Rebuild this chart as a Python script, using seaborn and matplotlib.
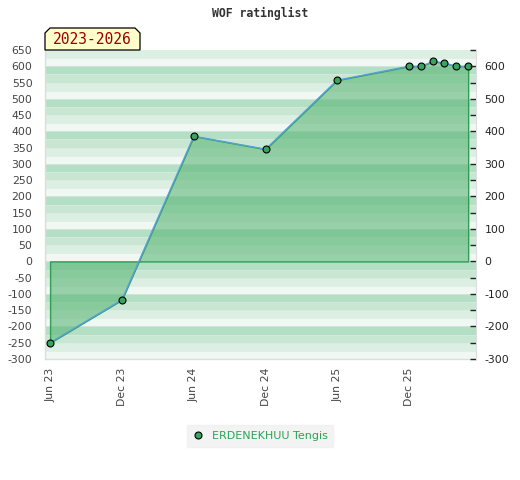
import pandas as pd
import numpy as np
import matplotlib
matplotlib.use('Agg')
import matplotlib.pyplot as plt
import matplotlib.dates as mdates
from matplotlib.lines import Line2D
from matplotlib.patches import Polygon
import seaborn as sns

# rating history
dates = pd.to_datetime(['2023-06-01', '2023-12-01', '2024-06-01', '2024-12-01',
                        '2025-06-01', '2025-12-01', '2026-01-01', '2026-02-01',
                        '2026-03-01', '2026-04-01', '2026-05-01'])
rating = [-250, -118, 385, 345, 557, 600, 600, 615, 610, 600, 600]
player = 'ERDENEKHUU Tengis'
period = '2023-2026'
title = 'WOF ratinglist'

df = pd.DataFrame({'date': dates, 'rating': rating})

sns.set_style('white')
plt.rcParams['font.family'] = ['DejaVu Sans']
plt.rcParams['axes.unicode_minus'] = False

fig = plt.figure(figsize=(5.2, 4.8), dpi=100)
ax = fig.add_axes([45 / 520, 1 - 359 / 480, 431 / 520, 309 / 480])

ymin, ymax = -300, 650
ax.set_ylim(ymin, ymax)
ax.set_xlim(pd.Timestamp('2023-05-19'), pd.Timestamp('2026-05-21'))

# striped background, 25-unit bands, darkest right under each hundred
band_cols = {0: '#b3dfc4', 75: '#c7e7d2', 50: '#dcefe3', 25: '#eff8f2'}
for top in range(ymax, ymin, -25):
    ax.axhspan(top - 25, top, color=band_cols[top % 100], lw=0, zorder=0)
    ax.axhline(top - 25, color='#e2e6e3', lw=0.5, zorder=0.5)

# filled area between the line and zero
ax.fill_between(df['date'], df['rating'], 0, facecolor=(0.35, 0.71, 0.46, 0.58),
                edgecolor='#2e9e55', lw=1.0, zorder=1)

sns.lineplot(data=df, x='date', y='rating', ax=ax, color='#5aa0dc', lw=1.0,
             marker='o', markersize=5, markerfacecolor='#3aa35f',
             markeredgecolor='black', markeredgewidth=0.8, zorder=3)

ax.set_xlabel('')
ax.set_ylabel('')

ticks = pd.to_datetime(['2023-06-01', '2023-12-01', '2024-06-01', '2024-12-01',
                        '2025-06-01', '2025-12-01'])
ax.set_xticks(ticks)
ax.xaxis.set_major_formatter(mdates.DateFormatter('%b %y'))
ax.tick_params(axis='x', rotation=90, length=0, labelsize=7.8, labelcolor='#444444', pad=6)
ax.set_yticks(range(-300, 651, 50))
ax.tick_params(axis='y', length=0, labelsize=7.8, labelcolor='#444444', pad=9)

for s in ['top', 'right']:
    ax.spines[s].set_visible(False)
for s in ['left', 'bottom']:
    ax.spines[s].set_color('#dddddd')
    ax.spines[s].set_linewidth(1)

ax2 = ax.twinx()
ax2.set_ylim(ymin, ymax)
ax2.set_yticks(range(-300, 601, 100))
ax2.set_yticks(range(-250, 651, 100), minor=True)
ax2.tick_params(axis='y', which='both', direction='in', length=4, width=1,
                color='#222222', labelsize=7.8, labelcolor='#222222', pad=6)
for s in ['top', 'left', 'bottom']:
    ax2.spines[s].set_visible(False)
ax2.spines['right'].set_color('#dddddd')

# period label box with chamfered corners
x0, x1, yt, yb, c = 45, 140, 28, 50, 5
pts = [(x0, yb), (x0, yt + c), (x0 + c, yt), (x1 - c, yt), (x1, yt + c), (x1, yb)]
pts = [(x / 520, 1 - y / 480) for x, y in pts]
fig.patches.append(Polygon(pts, closed=True, transform=fig.transFigure,
                           facecolor='#ffffcc', edgecolor='black', lw=0.9, zorder=5))
fig.text(92 / 520, 1 - 40 / 480, period, ha='center', va='center', color='#990000',
         fontsize=10.5, family='DejaVu Sans Mono', zorder=6)

fig.text(0.5, 1 - 13 / 480, title, ha='center', va='center', fontsize=8.3,
         fontweight='bold', family='DejaVu Sans Mono', color='#333333')

handle = Line2D([], [], ls='none', marker='o', markersize=5, markerfacecolor='#3aa35f',
                markeredgecolor='black', markeredgewidth=0.8)
leg = fig.legend([handle], [player], loc='center', bbox_to_anchor=(260 / 520, 1 - 436 / 480),
                 frameon=True, fontsize=8, handlelength=1, handletextpad=0.8,
                 borderpad=0.5, fancybox=False)
leg.get_frame().set_facecolor('#f0f0f0')
leg.get_frame().set_edgecolor('#f0f0f0')
for t in leg.get_texts():
    t.set_color('#2ea255')

fig.savefig('out.png', dpi=100)
